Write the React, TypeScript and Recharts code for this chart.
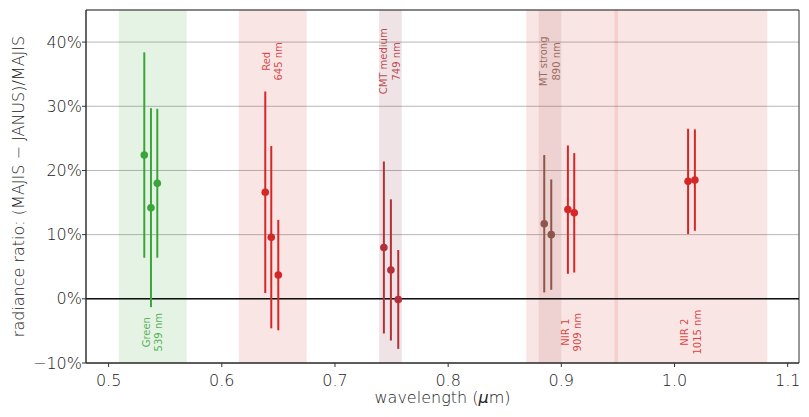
import { ComposedChart, Scatter, ErrorBar, XAxis, YAxis, CartesianGrid, ReferenceArea, ReferenceLine, ReferenceDot } from 'recharts';

// wavelength in µm, ratio in %
const greenX = [0.5315, 0.5374, 0.543];
const greenY = [22.4, 14.2, 18.0];
const greenErr = [16.0, 15.5, 11.6];

const redX = [0.6384, 0.6437, 0.6499];
const redY = [16.6, 9.6, 3.7];
const redErr = [15.7, 14.2, 8.6];

const cmtX = [0.7432, 0.7494, 0.7559];
const cmtY = [8.0, 4.5, -0.1];
const cmtErr = [13.4, 11.0, 7.7];

const mtX = [0.8849, 0.8911];
const mtY = [11.7, 10.0];
const mtErr = [10.7, 8.6];

const nir1X = [0.9058, 0.9114];
const nir1Y = [13.9, 13.4];
const nir1Err = [10.0, 9.3];

const nir2X = [1.012, 1.018];
const nir2Y = [18.3, 18.5];
const nir2Err = [8.2, 7.9];

// filter bands
const bandNames = ['Green', 'Red', 'CMT medium', 'MT strong', 'NIR 1', 'NIR 2'];
const bandNm = [539, 645, 749, 890, 909, 1015];
const bandFrom = [0.509, 0.615, 0.739, 0.88, 0.869, 0.947];
const bandTo = [0.569, 0.675, 0.759, 0.9, 0.95, 1.082];
const bandLabelY = [-5.2, 37, 37, 37, -5.2, -5.2];
const bandColors = ['#2ca02c', '#d62728', '#821626', '#8c564b', '#d62728', '#d62728'];
const labelColors = ['#3aa53a', '#d62728', '#b0303a', '#8c564b', '#d62728', '#d62728'];

const xTicks = [0.5, 0.6, 0.7, 0.8, 0.9, 1.0, 1.1];
const yTicks = [-10, 0, 10, 20, 30, 40];

const font = '"DejaVu Sans", sans-serif';

const toPoints = (xs: number[], ys: number[], errs: number[]) =>
  xs.map((x, i) => ({ x, y: ys[i], err: errs[i] }));

const series = [
  { name: 'green', color: '#3aa53a', data: toPoints(greenX, greenY, greenErr) },
  { name: 'red', color: '#d62728', data: toPoints(redX, redY, redErr) },
  { name: 'cmt', color: '#b3303a', data: toPoints(cmtX, cmtY, cmtErr) },
  { name: 'mt', color: '#8c564b', data: toPoints(mtX, mtY, mtErr) },
  { name: 'nir1', color: '#d62728', data: toPoints(nir1X, nir1Y, nir1Err) },
  { name: 'nir2', color: '#d62728', data: toPoints(nir2X, nir2Y, nir2Err) },
];

const fmtPct = (v: number) => (v < 0 ? '\u2212' + Math.abs(v) : String(v)) + '%';

export default function App() {
  return (
    <div style={{ position: 'absolute', left: 0, top: 0, width: 809, height: 417, background: '#fff' }}>
      <ComposedChart width={809} height={417} margin={{ top: 10, right: 10, left: 0, bottom: 0 }}>
        <CartesianGrid vertical={false} stroke="#b8b8b8" />
        {bandNames.map((n, i) => (
          <ReferenceArea
            key={n}
            x1={bandFrom[i]}
            x2={bandTo[i]}
            fill={bandColors[i]}
            fillOpacity={0.12}
            stroke="none"
          />
        ))}
        <XAxis
          type="number"
          dataKey="x"
          domain={[0.48, 1.11]}
          ticks={xTicks}
          allowDataOverflow
          tickFormatter={(v: number) => v.toFixed(1)}
          height={54}
          tickSize={4}
          tickMargin={8}
          stroke="#333"
          tick={{ fill: '#222', fontSize: 16, fontFamily: font, fontWeight: 200 }}
          label={{
            content: ({ viewBox }: any) => (
              <text
                x={viewBox.x + viewBox.width / 2}
                y={viewBox.y + 40}
                textAnchor="middle"
                fontSize={16}
                fontFamily={font}
                fontWeight={200}
                fill="#222"
              >
                wavelength (<tspan fontStyle="italic">μ</tspan>m)
              </text>
            ),
          }}
        />
        <YAxis
          type="number"
          dataKey="y"
          domain={[-10, 45]}
          ticks={yTicks}
          allowDataOverflow
          tickFormatter={fmtPct}
          width={86}
          tickSize={4}
          tickMargin={0}
          stroke="#333"
          tick={{ fill: '#222', fontSize: 16, fontFamily: font, fontWeight: 200 }}
          label={{
            content: ({ viewBox }: any) => {
              const cx = 23.5;
              const cy = viewBox.y + viewBox.height / 2;
              return (
                <text
                  x={cx}
                  y={cy}
                  transform={`rotate(-90, ${cx}, ${cy})`}
                  textAnchor="middle"
                  fontSize={16}
                  fontFamily={font}
                  fontWeight={200}
                  fill="#222"
                >
                  radiance ratio: (MAJIS − JANUS)/MAJIS
                </text>
              );
            },
          }}
        />
        <ReferenceLine y={0} stroke="#111" strokeWidth={1.6} />
        {bandNames.map((n, i) => (
          <ReferenceDot
            key={'lbl' + n}
            x={bandNm[i] / 1000}
            y={bandLabelY[i]}
            shape={(p: any) => (
              <g fill={labelColors[i]} fillOpacity={0.85} fontSize={10} fontFamily={font}>
                <text
                  x={p.cx - 6.5}
                  y={p.cy}
                  transform={`rotate(-90, ${p.cx - 6.5}, ${p.cy})`}
                  textAnchor="middle"
                  dominantBaseline="central"
                >
                  {n}
                </text>
                <text
                  x={p.cx + 6}
                  y={p.cy}
                  transform={`rotate(-90, ${p.cx + 6}, ${p.cy})`}
                  textAnchor="middle"
                  dominantBaseline="central"
                >
                  {bandNm[i]} nm
                </text>
              </g>
            )}
          />
        ))}
        {series.map((s) => (
          <Scatter
            key={s.name}
            data={s.data}
            fill={s.color}
            isAnimationActive={false}
            shape={(p: any) => <circle cx={p.cx} cy={p.cy} r={3.8} fill={s.color} />}
          >
            <ErrorBar dataKey="err" direction="y" width={0} stroke={s.color} strokeWidth={2} isAnimationActive={false} />
          </Scatter>
        ))}
        <ReferenceArea x1={0.48} x2={1.11} y1={-10} y2={45} fill="none" stroke="#333" strokeWidth={1} />
      </ComposedChart>
    </div>
  );
}
